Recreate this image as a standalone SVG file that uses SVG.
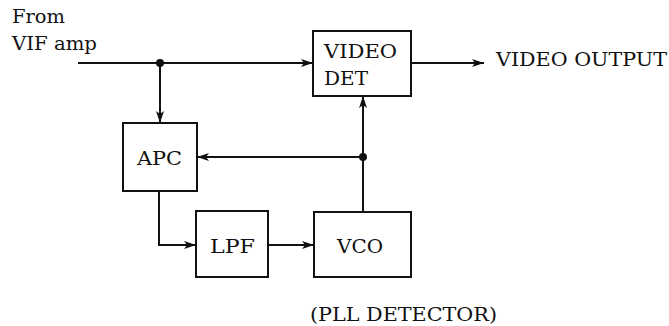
<svg xmlns="http://www.w3.org/2000/svg" width="669" height="326" viewBox="0 0 669 326">
<style>
.box{fill:#fff;stroke:#111;stroke-width:2}
.ln{fill:none;stroke:#111;stroke-width:2;marker-end:url(#ah)}
text{font-family:"DejaVu Serif","Liberation Serif",serif;font-size:19px;fill:#111}
.dot{fill:#111}
</style>
<defs>
<marker id="ah" viewBox="0 0 12 8" refX="12" refY="4" markerWidth="12" markerHeight="8" markerUnits="userSpaceOnUse" orient="auto">
<path d="M0,0 L12,4 L0,8 L3,4 Z" fill="#111"/>
</marker>
</defs>
<g id="labels">
<text x="12" y="23" textLength="53" lengthAdjust="spacingAndGlyphs">From</text>
<text x="12" y="50" textLength="85" lengthAdjust="spacingAndGlyphs">VIF amp</text>
<text x="496" y="66" textLength="171" lengthAdjust="spacingAndGlyphs">VIDEO OUTPUT</text>
<text x="310" y="321" textLength="187" lengthAdjust="spacingAndGlyphs">(PLL DETECTOR)</text>
</g>
<g id="connectors">
<path class="ln" d="M78,63 H313"/>
<path class="ln" d="M160,63 V123"/>
<path class="ln" d="M411,63 H484"/>
<path class="ln" d="M363,212 V96"/>
<path class="ln" d="M363,157 H197"/>
<path class="ln" d="M159,191 V245 H196"/>
<path class="ln" d="M268,245 H314"/>
<circle class="dot" cx="160" cy="63" r="4"/>
<circle class="dot" cx="363" cy="157" r="4"/>
</g>
<g id="videodet">
<rect class="box" x="313" y="31" width="98" height="65"/>
<text x="324" y="58" textLength="73" lengthAdjust="spacingAndGlyphs">VIDEO</text>
<text x="324" y="85" textLength="44" lengthAdjust="spacingAndGlyphs">DET</text>
</g>
<g id="apc">
<rect class="box" x="123" y="123" width="74" height="68"/>
<text x="137" y="165" textLength="45" lengthAdjust="spacingAndGlyphs">APC</text>
</g>
<g id="lpf">
<rect class="box" x="196" y="211" width="72" height="66"/>
<text x="210" y="253" textLength="45" lengthAdjust="spacingAndGlyphs">LPF</text>
</g>
<g id="vco">
<rect class="box" x="314" y="212" width="97" height="65"/>
<text x="337" y="253" textLength="46" lengthAdjust="spacingAndGlyphs">VCO</text>
</g>
</svg>
